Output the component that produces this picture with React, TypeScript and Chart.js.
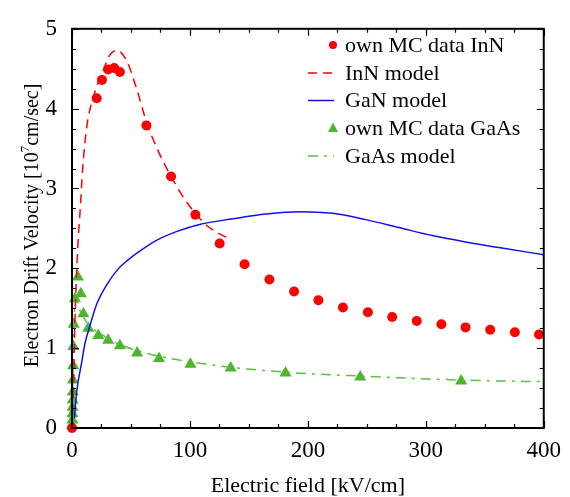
import React, { useEffect, useRef } from "react";
import { Chart, registerables } from "chart.js";

Chart.register(...registerables);

// ---- data ----
const innMcX = [0, 20.9, 25.4, 30.7, 35.8, 40.6, 63.1, 84, 104.6, 125.2, 146.3, 167.4, 188.3, 208.9, 229.7, 250.9, 271.5, 292.3, 313.2, 333.7, 354.6, 375.5, 396];
const innMcY = [0, 4.13, 4.36, 4.49, 4.51, 4.46, 3.79, 3.15, 2.67, 2.31, 2.05, 1.86, 1.71, 1.6, 1.51, 1.45, 1.39, 1.34, 1.3, 1.26, 1.23, 1.2, 1.17];

const innModelX = [0, 1.2, 2.5, 4.5, 7, 9, 12.4, 18, 26.5, 32, 38, 46, 55, 63, 74, 84, 94, 105, 114, 124, 132];
const innModelY = [0, 0.5, 1.34, 2.15, 2.75, 3.24, 3.76, 4.14, 4.48, 4.67, 4.73, 4.61, 4.24, 3.84, 3.44, 3.15, 2.9, 2.68, 2.54, 2.44, 2.38];

const ganModelX = [2, 4, 8.2, 11, 15.2, 20.9, 29.3, 39, 47, 55, 71.6, 88.5, 108.2, 136.4, 164.6, 192.8, 221, 249.2, 277.4, 305.5, 333.8, 362, 400];
const ganModelY = [0.12, 0.46, 0.82, 1.06, 1.28, 1.55, 1.79, 1.99, 2.1, 2.19, 2.35, 2.46, 2.55, 2.62, 2.68, 2.71, 2.69, 2.61, 2.51, 2.41, 2.33, 2.26, 2.17];

const gaasMcX = [0.2, 0.3, 0.4, 0.5, 0.6, 0.7, 0.8, 1.0, 1.2, 1.5, 2.5, 5, 7.5, 9.6, 13.8, 22.3, 30.7, 40.6, 55.2, 73.8, 100.4, 134.5, 181, 244.4, 330];
const gaasMcY = [0.03, 0.1, 0.18, 0.26, 0.35, 0.45, 0.6, 0.78, 1.02, 1.3, 1.62, 1.89, 1.68, 1.43, 1.25, 1.16, 1.1, 1.03, 0.94, 0.87, 0.8, 0.75, 0.69, 0.64, 0.59];

const gaasModelX = [0, 1, 2, 3, 4, 6, 10, 15, 24, 40, 60, 80, 100, 135, 180, 245, 330, 400];
const gaasModelY = [0, 0.8, 1.45, 1.62, 1.6, 1.5, 1.38, 1.28, 1.18, 1.05, 0.95, 0.88, 0.83, 0.76, 0.7, 0.65, 0.6, 0.58];

const xTicks = [0, 100, 200, 300, 400];
const yTicks = [0, 1, 2, 3, 4, 5];

const legendLabels = ["own MC data InN", "InN model", "GaN model", "own MC data GaAs", "GaAs model"];

const RED = "#ff0000";
const BLUE = "#1010ee";
const GREEN_PT = "#4cb52f";
const GREEN_LN = "#5ac23c";
const SERIF = '"Liberation Serif", "Times New Roman", serif';

const pts = (xs: number[], ys: number[]) => xs.map((x, i) => ({ x, y: ys[i] }));

const decorPlugin = {
  id: "decor",
  afterDraw(chart: any) {
    const { ctx, chartArea: a, scales } = chart;
    const xs = scales.x;
    const ys = scales.y;
    ctx.save();
    // frame
    ctx.strokeStyle = "#000";
    ctx.lineWidth = 2;
    ctx.strokeRect(a.left, a.top, a.right - a.left, a.bottom - a.top);
    // ticks
    ctx.lineWidth = 1.2;
    ctx.beginPath();
    for (let v = 0; v <= 400; v += 25) {
      const px = Math.round(xs.getPixelForValue(v)) + 0.5;
      const len = v % 100 === 0 ? 7 : 4;
      ctx.moveTo(px, a.bottom);
      ctx.lineTo(px, a.bottom - len);
      ctx.moveTo(px, a.top);
      ctx.lineTo(px, a.top + len);
    }
    for (let v = 0; v <= 5.001; v += 0.25) {
      const py = Math.round(ys.getPixelForValue(v)) + 0.5;
      const len = Math.abs(v - Math.round(v)) < 1e-6 ? 7 : 4;
      ctx.moveTo(a.left, py);
      ctx.lineTo(a.left + len, py);
      ctx.moveTo(a.right, py);
      ctx.lineTo(a.right - len, py);
    }
    ctx.stroke();

    // y title with superscript
    ctx.translate(33, (a.top + a.bottom) / 2 - 3);
    ctx.rotate(-Math.PI / 2);
    ctx.fillStyle = "#000";
    ctx.textBaseline = "middle";
    ctx.textAlign = "left";
    const base = "20px " + SERIF;
    const sup = "13px " + SERIF;
    const p1 = "Electron Drift Velocity [10";
    const p2 = "7";
    const p3 = "cm/sec]";
    ctx.font = base;
    const w1 = ctx.measureText(p1).width;
    const w3 = ctx.measureText(p3).width;
    ctx.font = sup;
    const w2 = ctx.measureText(p2).width;
    let x0 = -(w1 + w2 + w3) / 2;
    ctx.font = base;
    ctx.fillText(p1, x0, 0);
    x0 += w1;
    ctx.font = sup;
    ctx.fillText(p2, x0, -7);
    x0 += w2;
    ctx.font = base;
    ctx.fillText(p3, x0, 0);
    ctx.restore();

    // legend
    ctx.save();
    const rows = [45, 73, 100.5, 128, 156];
    ctx.font = "22px " + SERIF;
    ctx.fillStyle = "#000";
    ctx.textBaseline = "middle";
    ctx.textAlign = "left";
    legendLabels.forEach((t, i) => ctx.fillText(t, 345, rows[i] + 1));
    // InN MC dot
    ctx.fillStyle = RED;
    ctx.beginPath();
    ctx.arc(333, rows[0], 4, 0, Math.PI * 2);
    ctx.fill();
    // InN model dashed
    ctx.lineWidth = 1.5;
    ctx.strokeStyle = RED;
    ctx.setLineDash([9, 6]);
    ctx.beginPath();
    ctx.moveTo(308, rows[1]);
    ctx.lineTo(334, rows[1]);
    ctx.stroke();
    // GaN model
    ctx.setLineDash([]);
    ctx.strokeStyle = BLUE;
    ctx.beginPath();
    ctx.moveTo(308, rows[2]);
    ctx.lineTo(334, rows[2]);
    ctx.stroke();
    // GaAs triangle
    ctx.fillStyle = GREEN_PT;
    ctx.beginPath();
    ctx.moveTo(333, rows[3] - 5.5);
    ctx.lineTo(338, rows[3] + 4);
    ctx.lineTo(328, rows[3] + 4);
    ctx.closePath();
    ctx.fill();
    // GaAs model dash-dot
    ctx.strokeStyle = GREEN_LN;
    ctx.setLineDash([10, 6, 3, 6]);
    ctx.beginPath();
    ctx.moveTo(308, rows[4]);
    ctx.lineTo(334, rows[4]);
    ctx.stroke();
    ctx.restore();
  },
};

export default function App() {
  const ref = useRef<HTMLCanvasElement | null>(null);
  useEffect(() => {
    if (!ref.current) return;
    const chart = new Chart(ref.current, {
      type: "scatter",
      data: {
        datasets: [
          {
            label: "InN model",
            data: pts(innModelX, innModelY),
            showLine: true,
            borderColor: RED,
            borderWidth: 1.5,
            borderDash: [9, 6],
            pointRadius: 0,
            cubicInterpolationMode: "monotone",
            clip: 12,
          } as any,
          {
            label: "GaN model",
            data: pts(ganModelX, ganModelY),
            showLine: true,
            borderColor: BLUE,
            borderWidth: 1.5,
            pointRadius: 0,
            cubicInterpolationMode: "monotone",
            clip: 12,
          } as any,
          {
            label: "GaAs model",
            data: pts(gaasModelX, gaasModelY),
            showLine: true,
            borderColor: GREEN_LN,
            borderWidth: 1.5,
            borderDash: [10, 6, 3, 6],
            pointRadius: 0,
            cubicInterpolationMode: "monotone",
            clip: 12,
          } as any,
          {
            label: "own MC data InN",
            data: pts(innMcX, innMcY),
            showLine: false,
            pointStyle: "circle",
            pointRadius: 5,
            pointBackgroundColor: RED,
            pointBorderColor: RED,
            pointBorderWidth: 0,
            clip: 12,
          } as any,
          {
            label: "own MC data GaAs",
            data: pts(gaasMcX, gaasMcY),
            showLine: false,
            pointStyle: "triangle",
            pointRadius: 7,
            pointBackgroundColor: GREEN_PT,
            pointBorderColor: GREEN_PT,
            pointBorderWidth: 0,
            clip: 12,
          } as any,
        ],
      },
      options: {
        animation: false,
        responsive: true,
        maintainAspectRatio: false,
        layout: { padding: { left: 0, right: 25, top: 15, bottom: 0 } },
        plugins: { legend: { display: false }, tooltip: { enabled: false } },
        scales: {
          x: {
            type: "linear",
            min: 0,
            max: 400,
            grid: { display: false, drawTicks: false },
            border: { display: false },
            afterBuildTicks: (s: any) => {
              s.ticks = xTicks.map((v) => ({ value: v }));
            },
            afterFit: (s: any) => {
              s.height = 69;
            },
            ticks: {
              padding: 9,
              color: "#000",
              font: { family: SERIF, size: 23 },
              maxRotation: 0,
            },
            title: {
              display: true,
              text: "Electric field [kV/cm]",
              color: "#000",
              font: { family: SERIF, size: 22, lineHeight: 1 },
              padding: 0,
            },
          },
          y: {
            type: "linear",
            min: 0,
            max: 5,
            grid: { display: false, drawTicks: false },
            border: { display: false },
            afterBuildTicks: (s: any) => {
              s.ticks = yTicks.map((v) => ({ value: v }));
            },
            afterFit: (s: any) => {
              s.width = 72;
            },
            ticks: {
              padding: 15,
              color: "#000",
              font: { family: SERIF, size: 23 },
            },
          },
        },
      },
      plugins: [decorPlugin],
    });
    return () => chart.destroy();
  }, []);
  return (
    <div style={{ position: "absolute", left: 0, top: 0, width: 570, height: 497, background: "#fff" }}>
      <canvas ref={ref} />
    </div>
  );
}
